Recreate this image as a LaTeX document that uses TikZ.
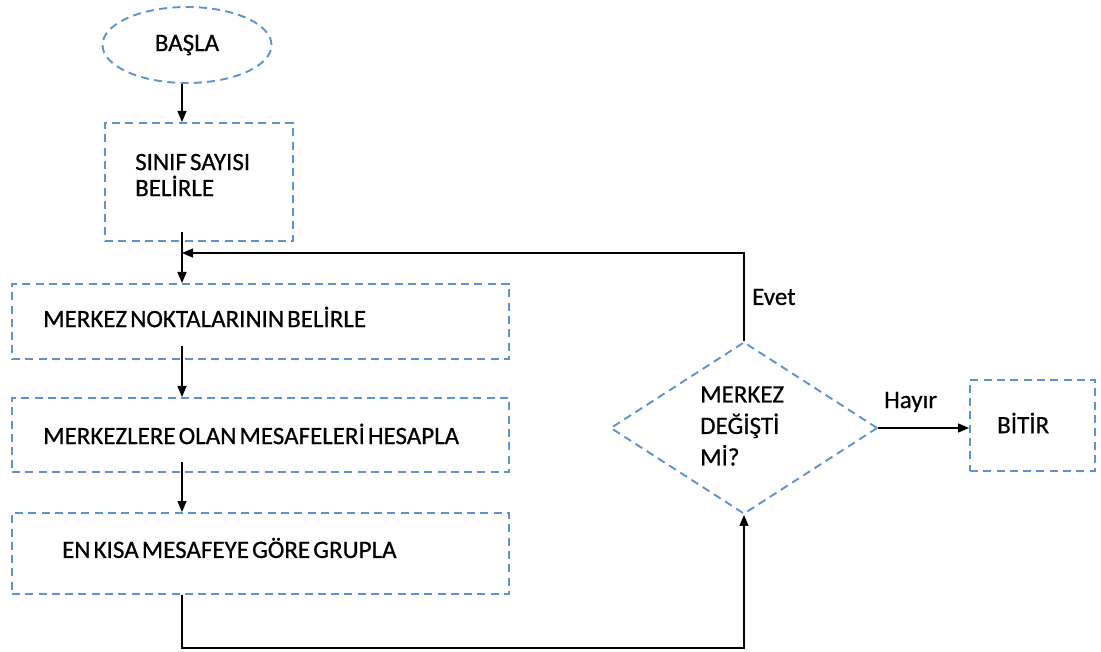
\documentclass[tikz,border=0pt]{standalone}
\usepackage{fontspec}
\setmainfont{Carlito}[WordSpace=0.55, FakeBold=0.6]
\usetikzlibrary{shapes.geometric,arrows.meta}
\definecolor{dashblue}{HTML}{5F92D0}
\begin{document}
\begin{tikzpicture}[x=1pt,y=-1pt,
  shapeline/.style={draw=dashblue, line width=1.9pt, dash pattern=on 8pt off 5.3pt, inner sep=0pt},
  procbox/.style={shapeline, rectangle, anchor=north west},
  lbl/.style={font=\fontsize{25}{26}\selectfont, anchor=west, inner sep=0pt, align=left},
  flow/.style={draw=black, line width=1.3pt, -{Triangle[length=11pt,width=9pt]}}]
\useasboundingbox (0,0) rectangle (1101,652);

% shapes
\node[shapeline, ellipse, minimum width=169pt, minimum height=76pt,
      font=\fontsize{25}{26}\selectfont] (start) at (187,45) {BAŞLA};
\node[procbox, minimum width=188pt, minimum height=118pt] (sinif) at (104,122) {};
\node[procbox, minimum width=497pt, minimum height=75pt] (nokta) at (11,283) {};
\node[procbox, minimum width=497pt, minimum height=74pt] (mesafe) at (11,397) {};
\node[procbox, minimum width=497pt, minimum height=81pt] (grup) at (11,512) {};
\node[shapeline, diamond, minimum width=267pt, minimum height=172pt] (cond) at (744,428) {};
\node[procbox, minimum width=125pt, minimum height=91pt] (bitir) at (969,379) {};

% texts
\node[lbl] (sinift) at (135,175) {SINIF SAYISI\\BELİRLE};
\node[lbl] (noktat) at (43,317) {MERKEZ NOKTALARININ BELİRLE};
\node[lbl] (mesafet) at (43,434) {MERKEZLERE OLAN MESAFELERİ HESAPLA};
\node[lbl] (grupt) at (62,548) {EN KISA MESAFEYE GÖRE GRUPLA};
\node[lbl, font=\fontsize{25}{31.5}\selectfont] (condt) at (700,426) {MERKEZ\\DEĞİŞTİ\\Mİ?};
\node[lbl] (bitirt) at (997,423) {BİTİR};
\node[lbl] (evet) at (752,297) {Evet};
\node[lbl] (hayir) at (884,402) {Hayır};

% routing helpers
\coordinate (col) at (182,0);
\coordinate (high) at (0,253);
\coordinate (low) at (0,648);

% connectors
\draw[flow] (start.south -| col) -- (sinif.north -| col);
\draw[flow] ([yshift=10pt]sinif.south -| col) -- (nokta.north -| col);
\draw[flow] ([yshift=14pt]nokta.south -| col) -- (mesafe.north -| col);
\draw[flow] ([yshift=11pt]mesafe.south -| col) -- (grup.north -| col);
\draw[flow] (grup.south -| col) -- (col |- low) -| (cond.south);
\draw[flow] (cond.north) -- (cond.north |- high) -- (col |- high);
\draw[flow] (cond.east) -- (cond.east -| bitir.west);
\end{tikzpicture}
\end{document}
